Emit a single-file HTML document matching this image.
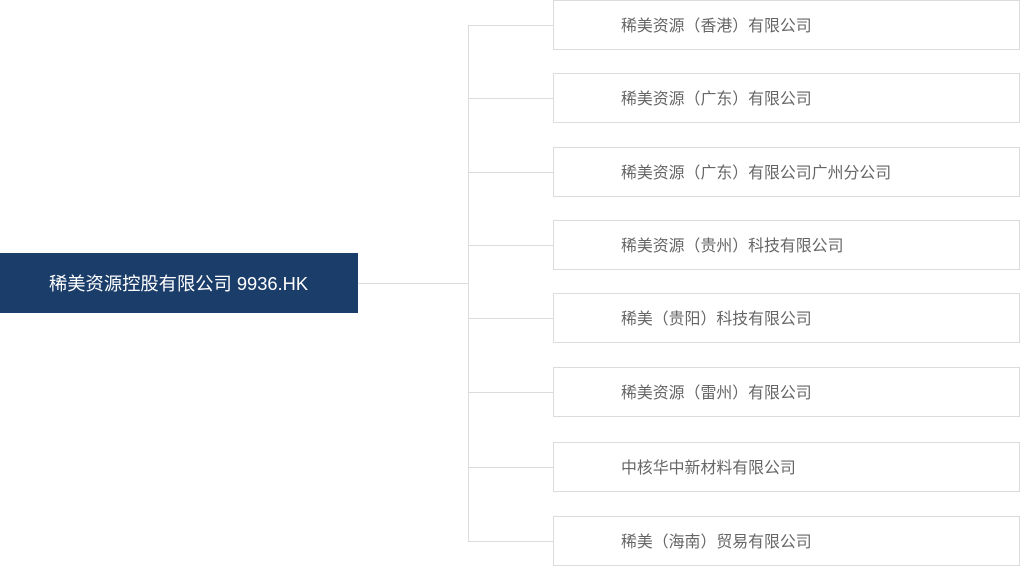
<!DOCTYPE html>
<html><head><meta charset="utf-8"><style>
body{margin:0;width:1020px;height:566px;background:#fff;position:relative;overflow:hidden;font-family:"Liberation Sans","Noto Sans CJK SC",sans-serif}
.main{position:absolute;left:0;top:253px;width:358px;height:60px;background:#1b3d6a;color:#fff;font-size:18.3px;line-height:62px;text-indent:49px}
.b{position:absolute;left:553px;width:465px;height:48px;border:1px solid #dcdcdc;color:#666;font-size:15.9px;line-height:52px;text-indent:67px;box-sizing:content-box;overflow:hidden}
.l{position:absolute;background:#dcdcdc}
</style></head><body>
<div class="main">稀美资源控股有限公司 9936.HK</div>
<div class="l" style="left:358px;top:283px;width:111px;height:1px"></div>
<div class="l" style="left:468px;top:25px;width:1px;height:516px"></div>
<div class="l" style="left:468px;top:25px;width:85px;height:1px"></div>
<div class="l" style="left:468px;top:98px;width:85px;height:1px"></div>
<div class="l" style="left:468px;top:172px;width:85px;height:1px"></div>
<div class="l" style="left:468px;top:245px;width:85px;height:1px"></div>
<div class="l" style="left:468px;top:318px;width:85px;height:1px"></div>
<div class="l" style="left:468px;top:392px;width:85px;height:1px"></div>
<div class="l" style="left:468px;top:467px;width:85px;height:1px"></div>
<div class="l" style="left:468px;top:541px;width:85px;height:1px"></div>
<div class="b" style="top:0">稀美资源（香港）有限公司</div>
<div class="b" style="top:73px">稀美资源（广东）有限公司</div>
<div class="b" style="top:147px">稀美资源（广东）有限公司广州分公司</div>
<div class="b" style="top:220px">稀美资源（贵州）科技有限公司</div>
<div class="b" style="top:293px">稀美（贵阳）科技有限公司</div>
<div class="b" style="top:367px">稀美资源（雷州）有限公司</div>
<div class="b" style="top:442px">中核华中新材料有限公司</div>
<div class="b" style="top:516px">稀美（海南）贸易有限公司</div>
</body></html>
